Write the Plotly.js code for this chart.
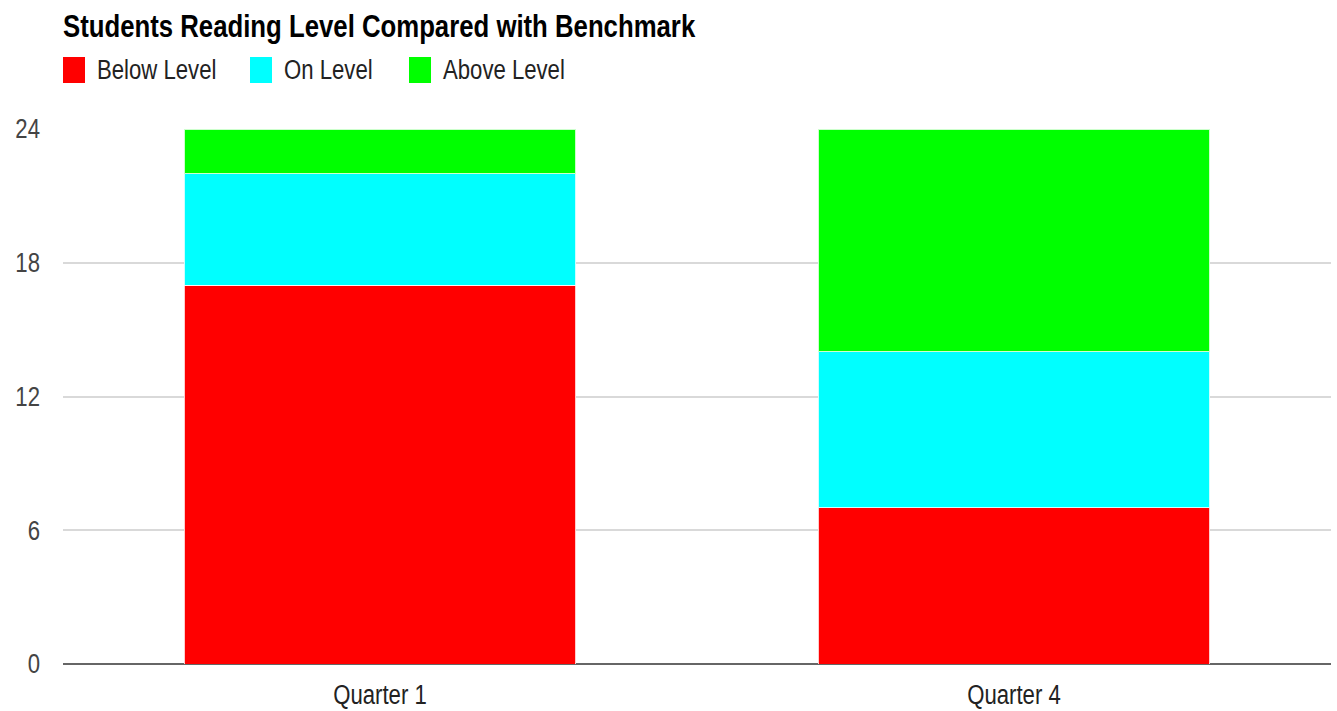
<!DOCTYPE html>
<html>
<head>
<meta charset="utf-8">
<script src="https://cdn.plot.ly/plotly-3.0.1.min.js"></script>
<style>
  html, body { margin: 0; padding: 0; background: #fff; }
  #chart { width: 1337px; height: 711px; }
</style>
</head>
<body>
<div id="chart"></div>
<script>
// Students per reading level, per quarter
const quarters = ["Quarter 1", "Quarter 4"];
const seriesNames = ["Below Level", "On Level", "Above Level"];
const belowLevel = [17, 7];
const onLevel = [5, 7];
const aboveLevel = [2, 10];
const seriesColors = ["#ff0000", "#00ffff", "#00ff00"];
const yTicks = [0, 6, 12, 18, 24];

const FONT = '"Liberation Sans", Arial, sans-serif';
const NARROW = 0.82; // horizontal squeeze for an Arial-Narrow look
const W = 1337, H = 711;
const M = { l: 63, r: 6, t: 129, b: 47 };
const plotW = W - M.l - M.r, plotH = H - M.t - M.b;

// pixel -> paper coordinates for the hand-built legend
const px = x => (x - M.l) / plotW;
const py = y => (H - M.b - y) / plotH;

const seriesValues = [belowLevel, onLevel, aboveLevel];
const traces = seriesNames.map((name, i) => ({
  type: 'bar',
  name: name,
  x: quarters,
  y: seriesValues[i],
  marker: { color: seriesColors[i], line: { color: 'rgba(255,255,255,0.8)', width: 1 } },
  hoverinfo: 'x+y+name'
}));

// legend: swatch left edges (pixels)
const legendSwatchX = [63, 250, 409];
const shapes = [];
const annotations = [];
seriesNames.forEach((name, i) => {
  const x0 = legendSwatchX[i];
  shapes.push({
    type: 'rect', xref: 'paper', yref: 'paper',
    x0: px(x0), x1: px(x0 + 22), y0: py(83), y1: py(57),
    fillcolor: seriesColors[i], line: { width: 0 }
  });
  annotations.push({
    xref: 'paper', yref: 'paper', x: px(x0 + 32), y: py(70),
    xanchor: 'left', yanchor: 'middle', showarrow: false,
    text: name, font: { family: FONT, size: 27, color: '#222222' }
  });
});

const layout = {
  width: W, height: H,
  margin: M,
  paper_bgcolor: '#ffffff', plot_bgcolor: '#ffffff',
  barmode: 'stack',
  bargap: 0.383,
  showlegend: false,
  title: {
    text: '<b>Students Reading Level Compared with Benchmark</b>',
    font: { family: FONT, size: 31.4, color: '#000000' },
    xref: 'container', yref: 'container',
    x: 63 / W, xanchor: 'left',
    y: 1 - 26 / H, yanchor: 'middle'
  },
  xaxis: {
    type: 'category',
    showgrid: false, zeroline: false, showline: false,
    ticks: '',
    tickfont: { family: FONT, size: 27, color: '#222222' },
    ticklabelstandoff: 12
  },
  yaxis: {
    range: [0, 24],
    tickvals: yTicks,
    ticktext: yTicks.map(String),
    showgrid: true, gridcolor: '#d9d9d9', gridwidth: 2,
    zeroline: true, zerolinecolor: '#666666', zerolinewidth: 2,
    showline: false, ticks: '',
    tickfont: { family: FONT, size: 27, color: '#444444' },
    ticklabelstandoff: 22
  },
  shapes: shapes,
  annotations: annotations,
  hovermode: false
};

// squeeze every text horizontally so the regular face reads like a narrow one;
// centred annotation texts are shifted so their left edge stays put
function narrowText(gd) {
  gd.querySelectorAll('svg text').forEach(t => {
    const len = t.getComputedTextLength();
    if (len <= 0) return;
    t.setAttribute('textLength', (len * NARROW).toFixed(2));
    t.setAttribute('lengthAdjust', 'spacingAndGlyphs');
    if (t.closest('.annotation') && t.getAttribute('text-anchor') === 'middle') {
      const x = parseFloat(t.getAttribute('x')) || 0;
      t.setAttribute('x', (x - len * (1 - NARROW) / 2).toFixed(2));
    }
  });
}

Plotly.newPlot('chart', traces, layout, { displayModeBar: false, staticPlot: true })
  .then(narrowText);
</script>
</body>
</html>
